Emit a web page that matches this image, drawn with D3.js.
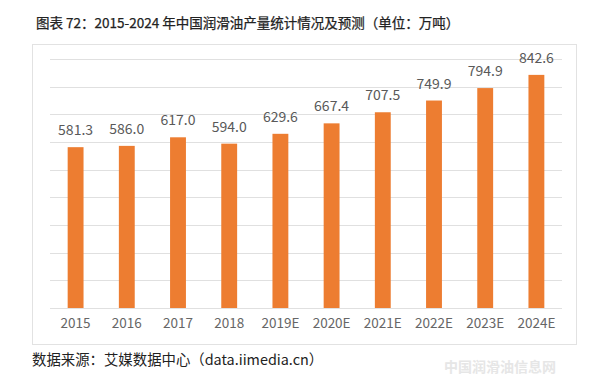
<!DOCTYPE html>
<html>
<head>
<meta charset="utf-8">
<script src="https://cdn.jsdelivr.net/npm/d3@7"></script>
<style>
  body { margin: 0; background: #fff; }
  svg { display: block; font-family: "Noto Sans CJK SC", "Noto Sans", sans-serif; }
</style>
</head>
<body>
<div id="chart"></div>
<script>
const years = ["2015", "2016", "2017", "2018", "2019E", "2020E", "2021E", "2022E", "2023E", "2024E"];
const output = [581.3, 586.0, 617.0, 594.0, 629.6, 667.4, 707.5, 749.9, 794.9, 842.6];
const gridTicks = [0, 100, 200, 300, 400, 500, 600, 700, 800, 900];

const width = 599, height = 388;
const margin = { top: 59, right: 37, bottom: 80, left: 50 };

const svg = d3.select("#chart").append("svg")
  .attr("width", width)
  .attr("height", height);

svg.append("text")
  .attr("x", 36).attr("y", 28)
  .attr("font-size", 13.5)
  .attr("fill", "#222")
  .attr("stroke", "#222")
  .attr("stroke-width", 0.25)
  .text("图表 72：2015-2024 年中国润滑油产量统计情况及预测（单位：万吨）");

// outer frame
svg.append("rect")
  .attr("x", 32.5).attr("y", 44.5)
  .attr("width", 544).attr("height", 300)
  .attr("fill", "none")
  .attr("stroke", "#e2e2e2");

const x = d3.scaleBand()
  .domain(years)
  .range([margin.left, width - margin.right])
  .paddingInner(0.69)
  .paddingOuter(0.345);

const y = d3.scaleLinear()
  .domain([0, 900])
  .range([308, margin.top]);

svg.append("g")
  .selectAll("line")
  .data(gridTicks)
  .join("line")
  .attr("x1", margin.left)
  .attr("x2", width - margin.right)
  .attr("y1", d => Math.round(y(d)) + 0.5)
  .attr("y2", d => Math.round(y(d)) + 0.5)
  .attr("stroke", "#e0e0e0");

svg.append("g")
  .selectAll("rect")
  .data(output)
  .join("rect")
  .attr("x", (d, i) => x(years[i]))
  .attr("width", x.bandwidth())
  .attr("y", d => y(d))
  .attr("height", d => y(0) - y(d))
  .attr("fill", "#ED7D31");

svg.append("g")
  .selectAll("text")
  .data(output)
  .join("text")
  .attr("x", (d, i) => x(years[i]) + x.bandwidth() / 2)
  .attr("y", d => y(d) - 12)
  .attr("text-anchor", "middle")
  .attr("font-size", 14)
  .attr("fill", "#595959")
  .text(d => d.toFixed(1));

const xAxis = svg.append("g")
  .attr("transform", `translate(0,${y(0)})`)
  .call(d3.axisBottom(x).tickSize(0).tickPadding(10));
xAxis.select(".domain").remove();
xAxis.selectAll("text")
  .attr("font-family", "'Noto Sans CJK SC', 'Noto Sans', sans-serif")
  .attr("font-size", 13.5)
  .attr("fill", "#666");

svg.append("text")
  .attr("x", 32).attr("y", 365)
  .attr("font-size", 14.4)
  .attr("fill", "#222")
  .text("数据来源：艾媒数据中心（data.iimedia.cn）");

// faint watermark
svg.append("text")
  .attr("x", 500).attr("y", 372)
  .attr("text-anchor", "middle")
  .attr("font-size", 14)
  .attr("font-weight", 700)
  .attr("fill", "#e6e6e6")
  .text("中国润滑油信息网");
</script>
</body>
</html>
